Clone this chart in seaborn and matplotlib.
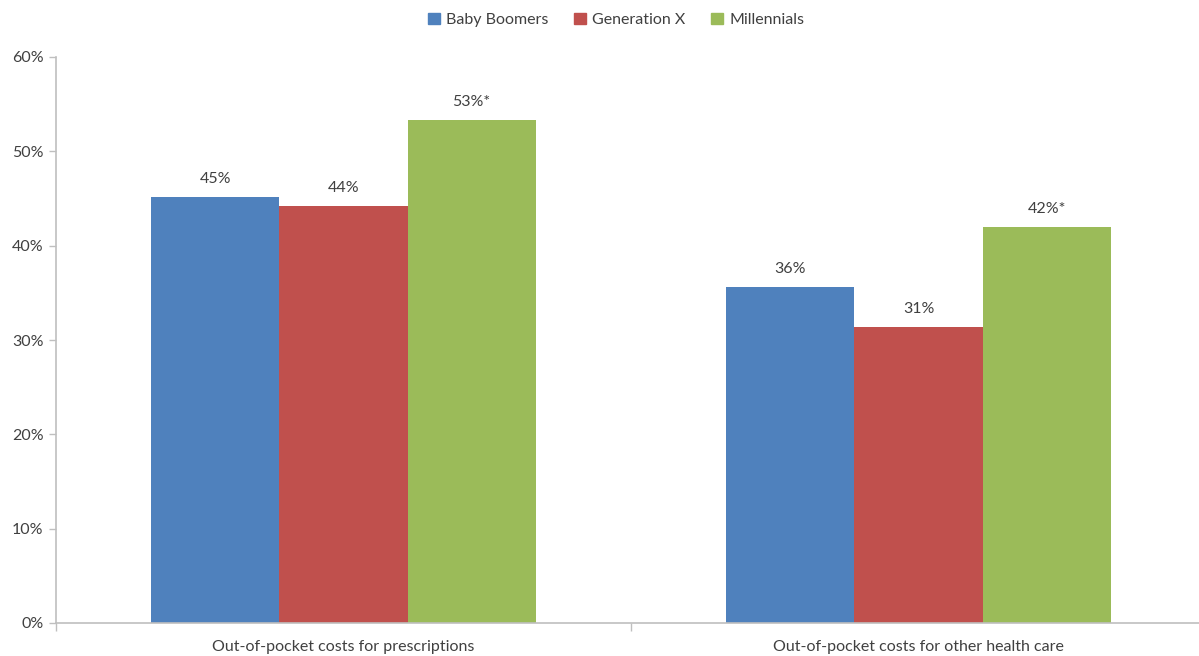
import matplotlib
matplotlib.use("Agg")
import matplotlib.pyplot as plt
import seaborn as sns
import pandas as pd
from matplotlib.ticker import FixedLocator, FuncFormatter

categories = ["Out-of-pocket costs for prescriptions",
              "Out-of-pocket costs for other health care"]
generations = ["Baby Boomers", "Generation X", "Millennials"]
baby_boomers = [45.2, 35.6]
generation_x = [44.2, 31.4]
millennials = [53.3, 42.0]
label_suffix = ["", "", "*"]
colors = ["#4F81BD", "#C0504D", "#9BBB59"]

df = pd.DataFrame({
    "category": categories * 3,
    "generation": [g for g in generations for _ in categories],
    "share": baby_boomers + generation_x + millennials,
})

sns.set_style("white")
plt.rcParams["font.family"] = ["Lato", "DejaVu Sans"]
text_color = "#404040"
axis_color = "#BFBFBF"

fig = plt.figure(figsize=(11.99, 6.56), dpi=100)
ax = fig.add_axes([56 / 1199, 33 / 656, 1150 / 1199, 566 / 656])

sns.barplot(data=df, x="category", y="share", hue="generation",
            order=categories, hue_order=generations, palette=colors,
            width=0.668, gap=0, saturation=1, errorbar=None, ax=ax,
            linewidth=0, legend=False)

# value labels above each bar
for container, suffix in zip(ax.containers, label_suffix):
    labels = [f"{round(v)}%{suffix}" for v in container.datavalues]
    ax.bar_label(container, labels=labels, padding=8, fontsize=11.5,
                 color=text_color)

ax.set_xlim(-0.5, 1.5)
ax.set_ylim(0, 60)
ax.set_yticks(range(0, 61, 10))
ax.yaxis.set_major_formatter(FuncFormatter(lambda v, _: f"{int(v)}%"))
ax.set_xlabel("")
ax.set_ylabel("")

for side in ("top", "right"):
    ax.spines[side].set_visible(False)
for side in ("left", "bottom"):
    ax.spines[side].set_color(axis_color)
    ax.spines[side].set_linewidth(1.2)

ax.tick_params(axis="y", which="major", left=True, length=5, width=1,
               color=axis_color, labelsize=11.5, labelcolor=text_color, pad=4)
ax.tick_params(axis="x", which="major", bottom=False, length=0,
               labelsize=11.5, labelcolor=text_color, pad=12)
ax.xaxis.set_minor_locator(FixedLocator([-0.5, 0.5, 1.5]))
ax.tick_params(axis="x", which="minor", bottom=True, length=6, width=1,
               color=axis_color)

handles = [plt.Rectangle((0, 0), 1, 1, color=c) for c in colors]
fig.legend(handles, generations, loc="center", bbox_to_anchor=(616 / 1199, 1 - 20 / 656),
           ncol=3, frameon=False, handlelength=0.75, handleheight=0.75,
           handletextpad=0.4, columnspacing=1.6, fontsize=11.5,
           labelcolor=text_color)

fig.savefig("out.png", dpi=100)
